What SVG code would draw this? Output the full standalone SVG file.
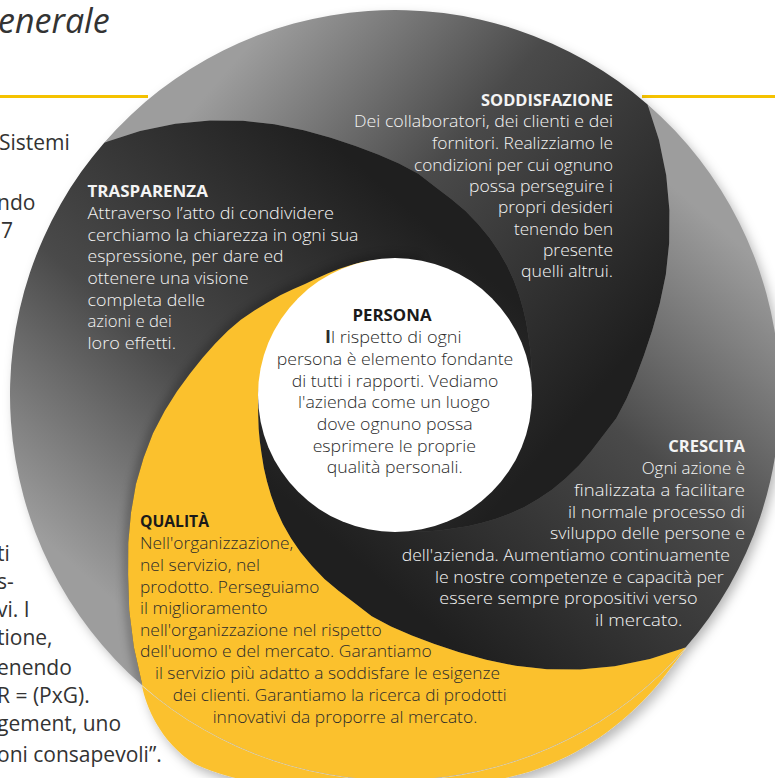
<svg xmlns="http://www.w3.org/2000/svg" width="775" height="778" viewBox="0 0 775 778">
<defs>
<style>
.b{font-family:'Open Sans','Noto Sans',sans-serif;font-size:17px;font-weight:300}
.h{font-family:'Open Sans','Noto Sans',sans-serif;font-size:16px;font-weight:700}
.pg{font-family:'Open Sans','Noto Sans',sans-serif;font-size:21px;fill:#333}
.w{fill:#f4f4f4}
.k{fill:#2b2b2b}
.hk{fill:#1a1a1a}
.sh{fill:none;stroke:#000;stroke-width:9;opacity:0.35}
</style>
<path id="bladeG" d="M0,-385 A385,385 0 0 1 385,0 L365.6,32 343.7,60.6 319.7,85.7 294.6,107.2 268.7,125.3 242.5,140 217.1,152 193,162 170.4,170.4 148.8,177.3 127.6,182.3 106,183.6 86.2,184.9 67.4,185.1 49.2,183.5 31.9,180.7 15.4,176.3 0,171 -14.4,164.4 -27.7,157.1 -40,149.2 -51.3,141 -61.7,132.3 -71.5,123.8 -80.6,115.1 -89,106.1 -97.1,97.1 -104.6,87.8 -111.6,78.1 -117.8,68 A136,136 0 0 0 68,117.8 L78.1,111.6 87.8,104.6 97.1,97.1 106.1,89 115.1,80.6 123.8,71.5 132.3,61.7 141,51.3 149.2,40 157.1,27.7 164.4,14.4 171,0 176.3,-15.4 180.7,-31.9 183.5,-49.2 185.1,-67.4 184.9,-86.2 183.6,-106 182.3,-127.6 177.3,-148.8 170.4,-170.4 162,-193 152,-217.1 140,-242.5 125.3,-268.7 107.2,-294.6 85.7,-319.7 60.6,-343.7 32,-365.6 Z"/>
<path id="bladeT" d="M0,-385 A385,385 0 0 1 385,0 L365.6,32 343.7,60.6 319.7,85.7 294.6,107.2 268.7,125.3 242.5,140 217.1,152 193,162 170.4,170.4 148.8,177.3 127.6,182.3 106,183.6 86.2,184.9 67.4,185.1 49.2,183.5 31.9,180.7 15.4,176.3 0,171 -14.4,164.4 -27.7,157.1 -40,149.2 -51.3,141 -61.7,132.3 -71.5,123.8 -80.6,115.1 -89,106.1 -97.1,97.1 -104.6,87.8 -111.6,78.1 -117.8,68 A136,136 0 0 0 68,117.8 L78,111.4 87.4,104.2 96.4,96.4 104.6,87.7 112.2,78.6 118.9,68.7 125.1,58.3 130.6,47.5 135.7,36.4 140.8,24.8 146.4,12.8 152,0 156.9,-13.7 161.5,-28.5 165.7,-44.4 168.2,-61.2 169.5,-79 169.7,-98 168.8,-118.2 167,-140.1 163.3,-163.3 157.5,-187.7 148.6,-212.2 137,-237.3 122.1,-261.9 104.3,-286.6 83.3,-311 59.4,-336.8 31.7,-361.6 Z"/>
<path id="bladeQ" d="M0,-385 A385,385 0 0 1 385,0 L361.6,31.7 336.8,59.4 311,83.3 286.6,104.3 261.9,122.1 237.3,137 212.2,148.6 187.7,157.5 163.3,163.3 140.1,167 118.2,168.8 98,169.7 79,169.5 61.2,168.2 44.4,165.7 28.5,161.5 13.7,156.9 0,152 -12.8,146.4 -24.8,140.8 -36.4,135.7 -47.5,130.6 -58.3,125.1 -68.7,118.9 -78.6,112.2 -87.7,104.6 -96.4,96.4 -104.2,87.4 -111.4,78 -117.8,68 A136,136 0 0 0 68,117.8 L78.1,111.6 87.8,104.6 97.1,97.1 106.1,89 115.1,80.6 123.8,71.5 132.3,61.7 141,51.3 149.2,40 157.1,27.7 164.4,14.4 171,0 176.3,-15.4 180.7,-31.9 183.5,-49.2 185.1,-67.4 184.9,-86.2 183.6,-106 182.3,-127.6 177.3,-148.8 170.4,-170.4 162,-193 152,-217.1 140,-242.5 125.3,-268.7 107.2,-294.6 85.7,-319.7 60.6,-343.7 32,-365.6 Z"/>
<path id="frontG" d="M385,0 L365.6,32 343.7,60.6 319.7,85.7 294.6,107.2 268.7,125.3 242.5,140 217.1,152 193,162 170.4,170.4 148.8,177.3 127.6,182.3 106,183.6 86.2,184.9 67.4,185.1 49.2,183.5 31.9,180.7 15.4,176.3 0,171 -14.4,164.4 -27.7,157.1 -40,149.2 -51.3,141 -61.7,132.3 -71.5,123.8 -80.6,115.1 -89,106.1 -97.1,97.1 -104.6,87.8 -111.6,78.1 -117.8,68"/>
<path id="frontQ" d="M385,0 L361.6,31.7 336.8,59.4 311,83.3 286.6,104.3 261.9,122.1 237.3,137 212.2,148.6 187.7,157.5 163.3,163.3 140.1,167 118.2,168.8 98,169.7 79,169.5 61.2,168.2 44.4,165.7 28.5,161.5 13.7,156.9 0,152 -12.8,146.4 -24.8,140.8 -36.4,135.7 -47.5,130.6 -58.3,125.1 -68.7,118.9 -78.6,112.2 -87.7,104.6 -96.4,96.4 -104.2,87.4 -111.4,78 -117.8,68"/>
<clipPath id="cpG"><use href="#bladeG" transform="rotate(90)"/></clipPath>
<clipPath id="cpQ"><use href="#bladeQ" transform="rotate(90)"/></clipPath>
<clipPath id="cpT"><use href="#bladeT" transform="rotate(90)"/></clipPath>
<linearGradient id="gGray" gradientUnits="userSpaceOnUse" x1="0" y1="-340" x2="0" y2="150">
<stop offset="0" stop-color="#9d9d9d"/>
<stop offset="0.45" stop-color="#4a4a4a"/>
<stop offset="1" stop-color="#1f1f1f"/>
</linearGradient>
<filter id="blur" x="-20%" y="-20%" width="140%" height="140%"><feGaussianBlur stdDeviation="4"/></filter>
<filter id="disk" x="-10%" y="-10%" width="125%" height="125%"><feDropShadow dx="4" dy="5" stdDeviation="6" flood-color="#000" flood-opacity="0.3"/></filter>
</defs>

<g id="page-text">
<text class="pg" x="-2" y="33" style="font-style:italic;font-size:34px">enerale</text>
<line x1="0" y1="96.5" x2="148" y2="96.5" stroke="#f5c200" stroke-width="3"/>
<line x1="642" y1="96.5" x2="775" y2="96.5" stroke="#f5c200" stroke-width="3"/>
<text class="pg" x="-1" y="150">Sistemi</text>
<text class="pg" x="-3" y="210">ndo</text>
<text class="pg" x="1" y="238">7</text>
<text class="pg" x="-3" y="561">ti</text>
<text class="pg" x="-3" y="589">s-</text>
<text class="pg" x="-3" y="617">vi.  I</text>
<text class="pg" x="-3" y="645">tione,</text>
<text class="pg" x="-3" y="675">enendo</text>
<text class="pg" x="-3" y="703">R = (PxG).</text>
<text class="pg" x="-3" y="731">gement, uno</text>
<text class="pg" x="-3" y="762">oni consapevoli”.</text>
</g>

<g id="disk-base" filter="url(#disk)">
<circle cx="395" cy="395" r="384" fill="#555"/>
<path d="M142,686 C146,706 160,742 195,764 C280,805 470,795 540,768 C590,750 630,718 660,682 L686,648 A385,385 0 0 1 142,686 Z" fill="#fbc12d"/>
</g>

<g id="trasparenza" transform="translate(395 395) rotate(-139)">
<use href="#bladeT" fill="url(#gGray)"/>
<g clip-path="url(#cpG)"><use href="#frontG" class="sh" filter="url(#blur)"/></g>
</g>
<g id="soddisfazione" transform="translate(395 395) rotate(-49)">
<use href="#bladeG" fill="url(#gGray)"/>
<g clip-path="url(#cpG)"><use href="#frontG" class="sh" filter="url(#blur)"/></g>
</g>
<g id="crescita" transform="translate(395 395) rotate(41)">
<use href="#bladeG" fill="url(#gGray)"/>
<g clip-path="url(#cpQ)"><use href="#frontG" class="sh" filter="url(#blur)" style="opacity:0.2"/></g>
</g>
<g id="qualita" transform="translate(395 395) rotate(131)">
<use href="#bladeQ" fill="#fbc12d"/>
<g clip-path="url(#cpT)"><use href="#frontQ" class="sh" filter="url(#blur)" style="opacity:0.25"/></g>
</g>

<g id="persona">
<circle cx="395" cy="395" r="137" fill="#fff"/>
</g>

<g id="soddisfazione-text" text-anchor="end">
<text class="h w" x="613" y="106" textLength="132" lengthAdjust="spacingAndGlyphs">SODDISFAZIONE</text>
<text class="b w" x="613" y="127.3" textLength="259" lengthAdjust="spacingAndGlyphs">Dei collaboratori, dei clienti e dei</text>
<text class="b w" x="613" y="149" textLength="181" lengthAdjust="spacingAndGlyphs">fornitori. Realizziamo le</text>
<text class="b w" x="613" y="170.7" textLength="199" lengthAdjust="spacingAndGlyphs">condizioni per cui ognuno</text>
<text class="b w" x="613" y="192" textLength="144" lengthAdjust="spacingAndGlyphs">possa perseguire i</text>
<text class="b w" x="613" y="213.3" textLength="115" lengthAdjust="spacingAndGlyphs">propri desideri</text>
<text class="b w" x="613" y="234.7" textLength="99" lengthAdjust="spacingAndGlyphs">tenendo ben</text>
<text class="b w" x="613" y="256" textLength="70" lengthAdjust="spacingAndGlyphs">presente</text>
<text class="b w" x="613" y="277.3" textLength="92" lengthAdjust="spacingAndGlyphs">quelli altrui.</text>
</g>

<g id="trasparenza-text">
<text class="h w" x="87.5" y="197.3" textLength="120.4" lengthAdjust="spacingAndGlyphs">TRASPARENZA</text>
<text class="b w" x="87.5" y="219.3" textLength="246.5" lengthAdjust="spacingAndGlyphs">Attraverso l’atto di condividere</text>
<text class="b w" x="87.5" y="240.7" textLength="271" lengthAdjust="spacingAndGlyphs">cerchiamo la chiarezza in ogni sua</text>
<text class="b w" x="87.5" y="262.3" textLength="196" lengthAdjust="spacingAndGlyphs">espressione, per dare ed</text>
<text class="b w" x="87.5" y="284" textLength="161" lengthAdjust="spacingAndGlyphs">ottenere una visione</text>
<text class="b w" x="87.5" y="305.7" textLength="117.5" lengthAdjust="spacingAndGlyphs">completa delle</text>
<text class="b w" x="87.5" y="327" textLength="84.2" lengthAdjust="spacingAndGlyphs">azioni e dei</text>
<text class="b w" x="87.5" y="348.7" textLength="88.5" lengthAdjust="spacingAndGlyphs">loro effetti.</text>
</g>

<g id="persona-text" text-anchor="middle">
<text class="h hk" x="392" y="320.7" textLength="79" lengthAdjust="spacingAndGlyphs">PERSONA</text>
<text class="b k" x="393.3" y="343.3" textLength="136.7" lengthAdjust="spacingAndGlyphs"><tspan font-weight="700">I</tspan>l rispetto di ogni</text>
<text class="b k" x="395" y="365" textLength="236.6" lengthAdjust="spacingAndGlyphs">persona è elemento fondante</text>
<text class="b k" x="395" y="386.7" textLength="206.6" lengthAdjust="spacingAndGlyphs">di tutti i rapporti. Vediamo</text>
<text class="b k" x="394" y="408.3" textLength="192" lengthAdjust="spacingAndGlyphs">l'azienda come un luogo</text>
<text class="b k" x="394.7" y="430" textLength="156" lengthAdjust="spacingAndGlyphs">dove ognuno possa</text>
<text class="b k" x="394.3" y="451.7" textLength="163.3" lengthAdjust="spacingAndGlyphs">esprimere le proprie</text>
<text class="b k" x="394.7" y="473.3" textLength="136" lengthAdjust="spacingAndGlyphs">qualità personali.</text>
</g>

<g id="crescita-text">
<text class="h w" x="745" y="452.3" text-anchor="end" textLength="76.7" lengthAdjust="spacingAndGlyphs">CRESCITA</text>
<text class="b w" x="745" y="474.3" text-anchor="end" textLength="103.3" lengthAdjust="spacingAndGlyphs">Ogni azione è</text>
<text class="b w" x="745" y="496" text-anchor="end" textLength="171" lengthAdjust="spacingAndGlyphs">finalizzata a facilitare</text>
<text class="b w" x="745" y="517.7" text-anchor="end" textLength="177" lengthAdjust="spacingAndGlyphs">il normale processo di</text>
<text class="b w" x="745" y="539.3" text-anchor="end" textLength="195" lengthAdjust="spacingAndGlyphs">sviluppo delle persone e</text>
<text class="b w" x="401.7" y="561" textLength="328.3" lengthAdjust="spacingAndGlyphs">dell'azienda. Aumentiamo continuamente</text>
<text class="b w" x="435" y="582.7" textLength="288.7" lengthAdjust="spacingAndGlyphs">le nostre competenze e capacità per</text>
<text class="b w" x="439.3" y="604.3" textLength="258.3" lengthAdjust="spacingAndGlyphs">essere sempre propositivi verso</text>
<text class="b w" x="595" y="625.7" textLength="87.5" lengthAdjust="spacingAndGlyphs">il mercato.</text>
</g>

<g id="qualita-text">
<text class="h hk" x="140" y="527.3" textLength="69" lengthAdjust="spacingAndGlyphs">QUALITÀ</text>
<text class="b k" x="140" y="549.3" textLength="153.3" lengthAdjust="spacingAndGlyphs">Nell'organizzazione,</text>
<text class="b k" x="140" y="571" textLength="120" lengthAdjust="spacingAndGlyphs">nel servizio, nel</text>
<text class="b k" x="140" y="592.7" textLength="179.3" lengthAdjust="spacingAndGlyphs">prodotto. Perseguiamo</text>
<text class="b k" x="140" y="614.3" textLength="127.7" lengthAdjust="spacingAndGlyphs">il miglioramento</text>
<text class="b k" x="140" y="636" textLength="241.7" lengthAdjust="spacingAndGlyphs">nell'organizzazione nel rispetto</text>
<text class="b k" x="140" y="657.3" textLength="291.7" lengthAdjust="spacingAndGlyphs">dell'uomo e del mercato. Garantiamo</text>
<text class="b k" x="155" y="679.3" textLength="345" lengthAdjust="spacingAndGlyphs">il servizio più adatto a soddisfare le esigenze</text>
<text class="b k" x="172.7" y="701" textLength="334" lengthAdjust="spacingAndGlyphs">dei clienti. Garantiamo la ricerca di prodotti</text>
<text class="b k" x="212.7" y="722.7" textLength="264.6" lengthAdjust="spacingAndGlyphs">innovativi da proporre al mercato.</text>
</g>
</svg>
